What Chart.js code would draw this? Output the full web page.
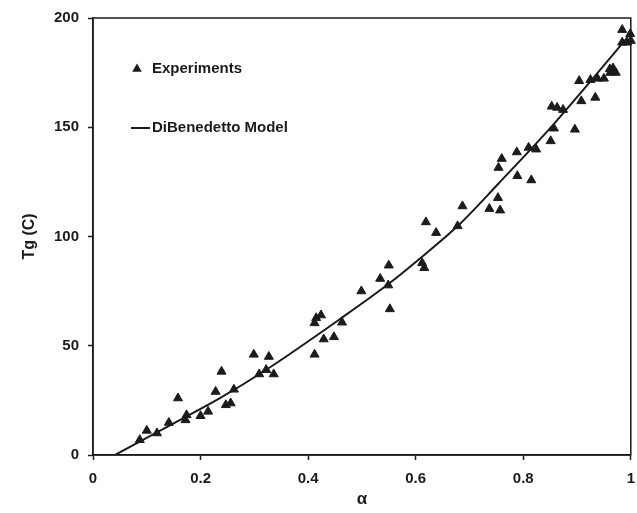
<!DOCTYPE html>
<html>
<head>
<meta charset="utf-8">
<script src="https://cdn.jsdelivr.net/npm/chart.js@4/dist/chart.umd.min.js"></script>
<style>
  html, body { margin: 0; padding: 0; background: #fff; }
  #wrap { width: 637px; height: 513px; }
</style>
</head>
<body>
<div id="wrap"><canvas id="tgChart"></canvas></div>
<script>
// measured Tg against conversion
var expAlpha = [0.087, 0.1, 0.119, 0.141, 0.158, 0.172, 0.174, 0.2, 0.214, 0.228,
  0.239, 0.247, 0.256, 0.262, 0.299, 0.309, 0.322, 0.327, 0.336, 0.412,
  0.412, 0.415, 0.424, 0.429, 0.448, 0.463, 0.499, 0.534, 0.549, 0.55,
  0.552, 0.612, 0.616, 0.619, 0.638, 0.678, 0.687, 0.737, 0.753, 0.754,
  0.757, 0.76, 0.788, 0.789, 0.81, 0.815, 0.824, 0.851, 0.853, 0.857,
  0.863, 0.874, 0.896, 0.904, 0.908, 0.925, 0.934, 0.938, 0.95, 0.961,
  0.962, 0.967, 0.972, 0.984, 0.984, 0.993, 0.999, 1.0];
var expTg = [6.9, 11.2, 10, 14.8, 26, 16, 18.3, 17.9, 19.9, 29,
  38.2, 22.9, 23.7, 30, 46, 37, 39, 45, 37, 46,
  60.4, 62.7, 64, 53, 54, 60.7, 75, 80.7, 77.7, 86.8,
  66.8, 87.9, 85.6, 106.6, 101.7, 104.8, 113.9, 112.7, 117.7, 131.5,
  112, 135.6, 138.6, 127.7, 140.7, 125.8, 139.9, 143.7, 159.5, 149.5,
  159, 158, 149, 171.2, 162, 171.7, 163.6, 172.3, 172.3, 176.6,
  175, 177, 175, 194.6, 188.8, 188.8, 192.7, 189.6];

// DiBenedetto model curve
var modelAlpha = [0.041, 0.137, 0.236, 0.322, 0.458, 0.548, 0.613, 0.681, 0.755, 0.848, 0.925, 1.0];
var modelTg = [0, 12.8, 26, 39, 62, 78, 91, 105.5, 124.5, 149, 171, 193];

var seriesNames = ['Experiments', 'DiBenedetto Model'];
var xTitle = 'α';
var yTitle = 'Tg (C)';

function toPoints(xs, ys) {
  var pts = [];
  for (var i = 0; i < xs.length; i++) pts.push({ x: xs[i], y: ys[i] });
  return pts;
}

var ink = '#1b1b1b';
var fontFam = '"Liberation Sans", Arial, sans-serif';

// frame round the plot plus the legend drawn inside it
var framePlugin = {
  id: 'frameAndKey',
  afterDraw: function (chart) {
    var c = chart.ctx, a = chart.chartArea;
    c.save();
    c.strokeStyle = ink;
    c.lineWidth = 1.5;
    c.strokeRect(a.left, a.top, a.right - a.left, a.bottom - a.top);

    c.font = 'bold 15px ' + fontFam;
    c.fillStyle = ink;
    c.textBaseline = 'middle';
    c.textAlign = 'left';

    // triangle key
    var tx = a.left + 44, ty = a.top + 51, r = 5.5;
    c.beginPath();
    c.moveTo(tx, ty - r);
    c.lineTo(tx + r * 0.87, ty + r * 0.5);
    c.lineTo(tx - r * 0.87, ty + r * 0.5);
    c.closePath();
    c.fill();
    c.fillText(seriesNames[0], a.left + 59, ty);

    // line key
    var ly = a.top + 110;
    c.lineWidth = 2;
    c.beginPath();
    c.moveTo(a.left + 38, ly);
    c.lineTo(a.left + 57, ly);
    c.stroke();
    c.fillText(seriesNames[1], a.left + 59, ly);
    c.restore();
  }
};

new Chart(document.getElementById('tgChart'), {
  type: 'scatter',
  data: {
    datasets: [{
      label: seriesNames[0],
      data: toPoints(expAlpha, expTg),
      pointStyle: 'triangle',
      pointRadius: 5.2,
      backgroundColor: ink,
      borderColor: ink,
      borderWidth: 1,
      clip: 6
    }, {
      label: seriesNames[1],
      type: 'line',
      data: toPoints(modelAlpha, modelTg),
      showLine: true,
      pointRadius: 0,
      borderColor: ink,
      borderWidth: 2,
      fill: false,
      cubicInterpolationMode: 'monotone'
    }]
  },
  options: {
    responsive: true,
    maintainAspectRatio: false,
    animation: false,
    layout: { padding: { top: 18, right: 5, left: 0, bottom: 0 } },
    plugins: {
      legend: { display: false },
      tooltip: { enabled: false }
    },
    scales: {
      x: {
        type: 'linear',
        min: 0,
        max: 1,
        afterFit: function (s) {
          s.height = 58;
          s.paddingLeft = 0;
          s.paddingRight = 0;
        },
        border: { color: ink, width: 1.5 },
        grid: { drawOnChartArea: false, tickLength: 5, color: ink, tickWidth: 1.5 },
        ticks: {
          stepSize: 0.2,
          padding: 10,
          color: ink,
          font: { family: fontFam, size: 15, weight: 'bold' },
          maxRotation: 0,
          callback: function (v) { return String(+v.toFixed(1)); }
        },
        title: {
          display: true,
          text: xTitle,
          color: ink,
          font: { family: fontFam, size: 17, weight: 'bold' },
          padding: { top: 0, bottom: 3 }
        }
      },
      y: {
        min: 0,
        max: 200,
        afterFit: function (s) { s.width = 93; },
        border: { color: ink, width: 1.5 },
        grid: { drawOnChartArea: false, tickLength: 5, color: ink, tickWidth: 1.5 },
        ticks: {
          stepSize: 50,
          padding: 9,
          color: ink,
          font: { family: fontFam, size: 15, weight: 'bold' }
        },
        title: {
          display: true,
          text: yTitle,
          color: ink,
          font: { family: fontFam, size: 16, weight: 'bold' },
          padding: { top: 20, bottom: 0 }
        }
      }
    }
  },
  plugins: [framePlugin]
});
</script>
</body>
</html>
